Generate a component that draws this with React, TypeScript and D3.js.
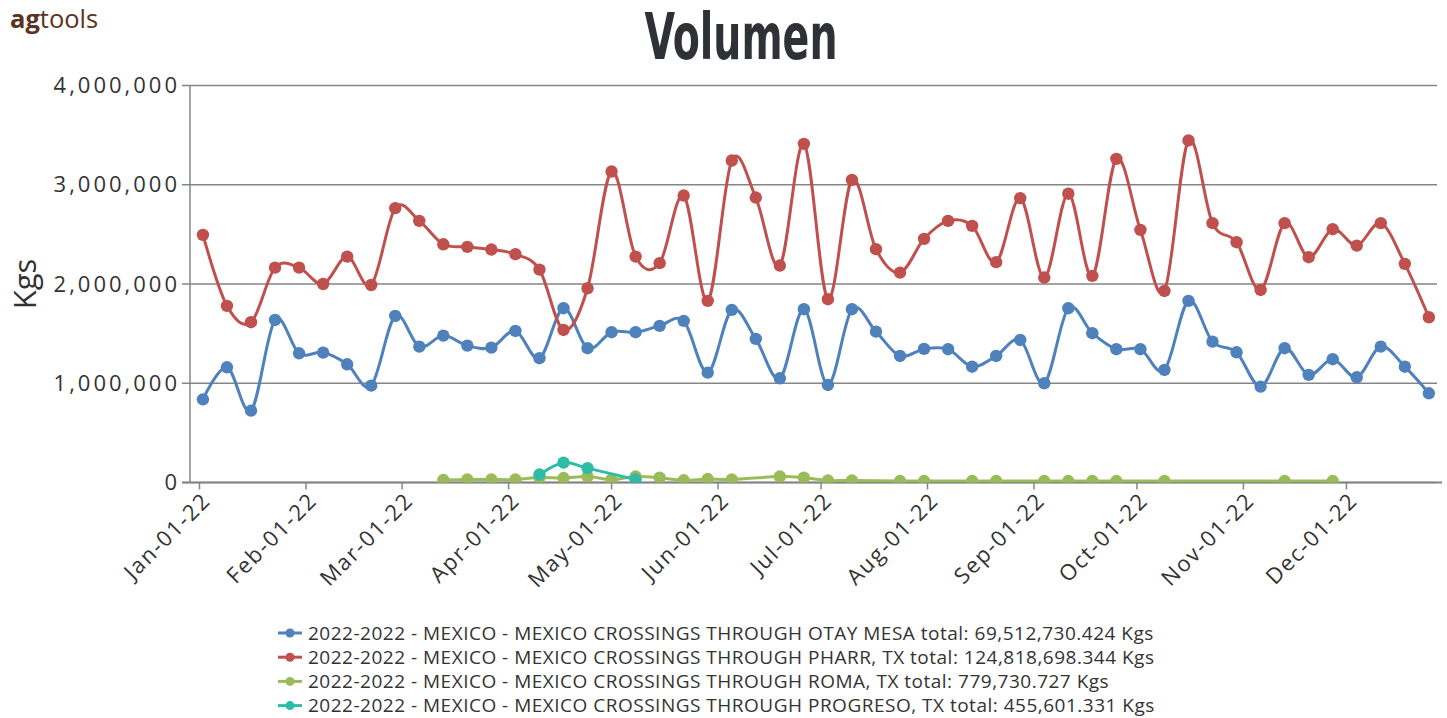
import React from "react";
import * as d3 from "d3";

const START = Date.UTC(2022, 0, 2);
const DAY = 864e5;

const otayMesa = [0.838,1.161,0.724,1.638,1.302,1.309,1.191,0.976,1.678,1.369,1.48,1.379,1.359,1.527,1.252,1.756,1.353,1.514,1.514,1.578,1.628,1.107,1.739,1.447,1.05,1.746,0.983,1.746,1.52,1.275,1.346,1.343,1.167,1.275,1.436,1.0,1.756,1.504,1.343,1.343,1.134,1.83,1.419,1.312,0.966,1.353,1.084,1.242,1.06,1.369,1.167,0.899];
const pharr = [2.495,1.78,1.615,2.165,2.165,2.0,2.276,1.99,2.764,2.636,2.40,2.374,2.347,2.30,2.145,1.537,1.957,3.133,2.276,2.21,2.891,1.83,3.244,2.871,2.186,3.412,1.847,3.049,2.351,2.115,2.455,2.636,2.586,2.22,2.865,2.065,2.91,2.082,3.261,2.545,1.93,3.446,2.613,2.421,1.94,2.613,2.27,2.552,2.387,2.613,2.203,1.665];
const romaWeeks = [10,11,12,13,14,15,16,17,18,19,20,21,22,24,25,26,27,29,30,32,33,35,36,37,38,40,45,47];
const romaValues = [0.025,0.03,0.03,0.03,0.05,0.045,0.06,0.03,0.06,0.048,0.022,0.035,0.03,0.06,0.048,0.02,0.02,0.015,0.015,0.015,0.015,0.015,0.015,0.015,0.015,0.015,0.015,0.015];
const progresoWeeks = [14,15,16,18];
const progresoValues = [0.08,0.2,0.145,0.03];

const yTicks = [0, 1, 2, 3, 4];
const legendLabels = [
  "2022-2022 - MEXICO - MEXICO CROSSINGS THROUGH OTAY MESA total: 69,512,730.424 Kgs",
  "2022-2022 - MEXICO - MEXICO CROSSINGS THROUGH PHARR, TX total: 124,818,698.344 Kgs",
  "2022-2022 - MEXICO - MEXICO CROSSINGS THROUGH ROMA, TX total: 779,730.727 Kgs",
  "2022-2022 - MEXICO - MEXICO CROSSINGS THROUGH PROGRESO, TX total: 455,601.331 Kgs",
];
const colors = ["#4F81BD", "#C0504D", "#9BBB59", "#2EBCA6"];

type Pt = { date: Date; v: number };
const weekDate = (w: number) => new Date(START + w * 7 * DAY);

const series: Pt[][] = [
  otayMesa.map((v, i) => ({ date: weekDate(i), v })),
  pharr.map((v, i) => ({ date: weekDate(i), v })),
  romaWeeks.map((w, i) => ({ date: weekDate(w), v: romaValues[i] })),
  progresoWeeks.map((w, i) => ({ date: weekDate(w), v: progresoValues[i] })),
];

const W = 1447, H = 718;
const L = 190, R = 1437, T = 85.5, B = 482.5;

export default function App() {
  const jan1 = Date.UTC(2022, 0, 1);
  const x = d3.scaleUtc()
    .domain([new Date(jan1 - 2.766 * DAY), new Date(jan1 + 360.37 * DAY)])
    .range([L, R]);
  const y = d3.scaleLinear().domain([0, 4]).range([B, T]);
  const line = d3.line<Pt>().x(d => x(d.date)).y(d => y(d.v)).curve(d3.curveCardinal);
  const months = d3.utcMonth.range(new Date(jan1), new Date(Date.UTC(2022, 11, 2)));
  const fmt = d3.utcFormat("%b-%d-%y");
  const yfmt = (v: number) => d3.format(",")(v * 1e6);
  const axisFont = "'Open Sans', 'Segoe UI', sans-serif";

  return (
    <svg width={W} height={H} style={{ position: "absolute", left: 0, top: 0, background: "#fff" }}>
      <defs>
        <clipPath id="plot">
          <rect x={L} y={T - 20} width={R - L + 10} height={B - T + 20} />
        </clipPath>
      </defs>
      <text x={10} y={28} fontFamily="'Open Sans', sans-serif" fontSize={25.5} fill="#5a3322">
        <tspan fontWeight={700}>ag</tspan><tspan fontWeight={500}>tools</tspan>
      </text>
      <text x={741} y={59} textAnchor="middle" fontFamily="'Liberation Sans Narrow', 'DejaVu Sans Condensed', sans-serif"
        fontWeight={700} fontSize={64} fill="#2e3236" textLength={193} lengthAdjust="spacingAndGlyphs">Volumen</text>

      {yTicks.map(t => (
        <g key={t}>
          <line x1={L - 8} x2={R} y1={y(t)} y2={y(t)} stroke="#858585" strokeWidth={1.5} />
          <text x={L - 10} y={y(t)} dy="0.35em" textAnchor="end" fontFamily={axisFont} fontSize={22} letterSpacing={3.0} fill="#333">{yfmt(t)}</text>
        </g>
      ))}
      <line x1={L} x2={L} y1={T} y2={B} stroke="#858585" strokeWidth={1.5} />
      <line x1={L - 8} x2={R + 5} y1={B} y2={B} stroke="#858585" strokeWidth={2} />
      {months.map(m => (
        <g key={m.getTime()}>
          <line x1={x(m)} x2={x(m)} y1={B} y2={B + 7} stroke="#858585" strokeWidth={1.5} />
          <text transform={`translate(${x(m) + 7},${B + 14}) rotate(-45)`} textAnchor="end" dy="0.35em"
            fontFamily={axisFont} fontSize={22} letterSpacing={1.7} fill="#333">{fmt(m)}</text>
        </g>
      ))}
      <text transform={`translate(36,${(T + B) / 2}) rotate(-90)`} textAnchor="middle" fontFamily={axisFont} fontSize={31} fill="#333">Kgs</text>

      <g clipPath="url(#plot)">
        {series.map((s, i) => (
          <g key={i}>
            <path d={line(s) || ""} fill="none" stroke={colors[i]} strokeWidth={3} />
            {s.map((p, j) => (
              <circle key={j} cx={x(p.date)} cy={y(p.v)} r={6.2} fill={colors[i]} />
            ))}
          </g>
        ))}
      </g>

      {legendLabels.map((lab, i) => {
        const ly = 633 + i * 24.2;
        return (
          <g key={i}>
            <line x1={278} x2={302} y1={ly} y2={ly} stroke={colors[i]} strokeWidth={3} />
            <circle cx={290} cy={ly} r={4.5} fill={colors[i]} />
            <text x={308} y={ly} dy="0.35em" fontFamily={axisFont} fontSize={19} letterSpacing={0.5} fill="#333">{lab}</text>
          </g>
        );
      })}
    </svg>
  );
}
